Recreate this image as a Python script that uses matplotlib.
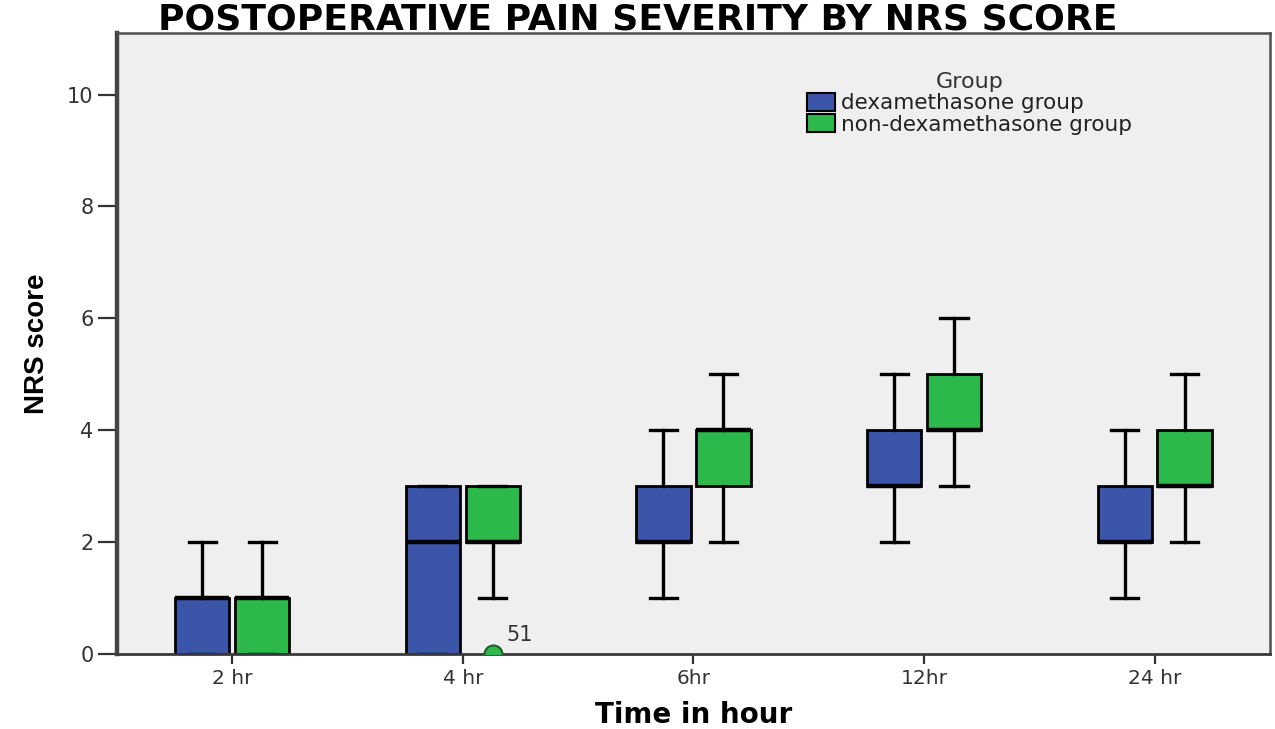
import matplotlib
matplotlib.use("Agg")
import matplotlib.pyplot as plt
from matplotlib.patches import Patch
import numpy as np

# time points on the x axis
times = ["2 hr", "4 hr", "6hr", "12hr", "24 hr"]

# five-number summaries (NRS score)
dexa_min = [0, 0, 1, 2, 1]
dexa_q1 = [0, 0, 2, 3, 2]
dexa_med = [1, 2, 2, 3, 2]
dexa_q3 = [1, 3, 3, 4, 3]
dexa_max = [2, 3, 4, 5, 4]

nondexa_min = [0, 1, 2, 3, 2]
nondexa_q1 = [0, 2, 3, 4, 3]
nondexa_med = [1, 2, 4, 4, 3]
nondexa_q3 = [1, 3, 4, 5, 4]
nondexa_max = [2, 3, 5, 6, 5]

# outlier: case 51, non-dexamethasone group at 4 hr
outlier_time = 1
outlier_value = 0
outlier_label = "51"

blue = "#3b56a9"
green = "#2cb84a"


def make_stats(mins, q1s, meds, q3s, maxs):
    out = []
    for lo, a, m, b, hi in zip(mins, q1s, meds, q3s, maxs):
        out.append({"whislo": lo, "q1": a, "med": m, "q3": b, "whishi": hi, "fliers": []})
    return out


fig = plt.figure(figsize=(12.75, 7.29), dpi=100)
ax = fig.add_axes([0.0918, 0.1029, 0.9042, 0.8518])
ax.set_facecolor("#efefef")

x = np.arange(len(times))
off = 0.13
w = 0.235

common = dict(
    widths=w, patch_artist=True, showfliers=False,
    boxprops=dict(edgecolor="black", linewidth=2),
    medianprops=dict(color="black", linewidth=3.2),
    whiskerprops=dict(color="black", linewidth=2.4),
    capprops=dict(color="black", linewidth=2.4),
    manage_ticks=False,
)

b1 = ax.bxp(make_stats(dexa_min, dexa_q1, dexa_med, dexa_q3, dexa_max),
            positions=x - off, **common)
b2 = ax.bxp(make_stats(nondexa_min, nondexa_q1, nondexa_med, nondexa_q3, nondexa_max),
            positions=x + off, **common)
for p in b1["boxes"]:
    p.set_facecolor(blue)
for p in b2["boxes"]:
    p.set_facecolor(green)

# outlier circle (half hidden below the axis like in the original)
ax.plot([outlier_time + off], [outlier_value], "o", ms=13, mfc=green,
        mec="#1d5e2a", mew=1.5, zorder=3)
ax.annotate(outlier_label, (outlier_time + off, outlier_value),
            xytext=(10, 9), textcoords="offset points",
            fontsize=15, color="#333333")

ax.set_xlim(-0.5, len(times) - 0.5)
ax.set_ylim(0, 11.1)
ax.set_xticks(x)
ax.set_xticklabels(times)
ax.set_yticks(range(0, 11, 2))
ax.tick_params(axis="both", direction="out", width=1.6,
               colors="#333333", labelcolor="#333333")
ax.tick_params(axis="x", length=7, labelsize=14.5, pad=4)
ax.tick_params(axis="y", length=14, labelsize=15, pad=3)

ax.spines["left"].set_linewidth(3.2)
ax.spines["left"].set_color("#444444")
ax.spines["bottom"].set_linewidth(2)
ax.spines["bottom"].set_color("#3a3a3a")
for s in ["top", "right"]:
    ax.spines[s].set_linewidth(1.8)
    ax.spines[s].set_color("#505050")

ax.set_xlabel("Time in hour", fontsize=20, fontweight="bold", labelpad=9,
              family=["DejaVu Sans"])
ax.set_ylabel("NRS score", fontsize=20, fontweight="bold", labelpad=12,
              family=["Liberation Sans Narrow", "Liberation Sans", "DejaVu Sans"])

fig.text(0.5, 1 - 30 / 729, "POSTOPERATIVE PAIN SEVERITY BY NRS SCORE",
         ha="center", va="baseline", fontsize=26, fontweight="bold",
         family=["DejaVu Sans"])

handles = [Patch(facecolor=blue, edgecolor="black", linewidth=1.5, label="dexamethasone group"),
           Patch(facecolor=green, edgecolor="black", linewidth=1.5, label="non-dexamethasone group")]
leg = ax.legend(handles=handles, title="Group", loc="upper left",
                bbox_to_anchor=(0.585, 0.962), frameon=False, fontsize=15.5,
                title_fontsize=16, handlelength=1.3, handleheight=0.9,
                handletextpad=0.3, labelspacing=0.05, borderpad=0.2)
for t in leg.get_texts():
    t.set_color("#222222")
leg.get_title().set_color("#333333")

fig.savefig("out.png", dpi=100, facecolor="white")
